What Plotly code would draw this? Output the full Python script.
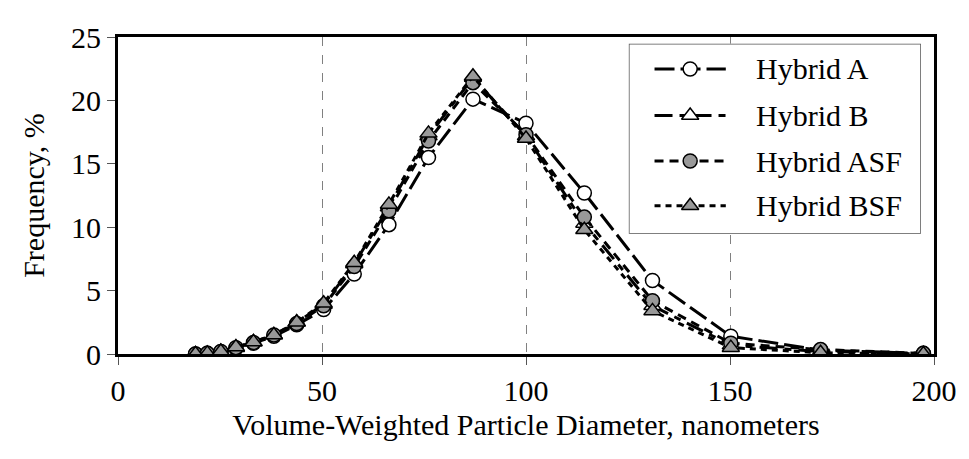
import plotly.graph_objects as go

# ---- data ----
diameter_nm = [19.0, 21.9, 25.2, 28.9, 33.2, 38.2, 43.8, 50.4, 57.9, 66.4,
               76.1, 87.0, 100.0, 114.3, 131.0, 150.2, 172.2, 197.4]
hybrid_a = [0.0, 0.05, 0.15, 0.45, 0.85, 1.4, 2.3, 3.5, 6.3, 10.2,
            15.5, 20.1, 18.2, 12.7, 5.8, 1.4, 0.3, 0.05]
hybrid_b = [0.0, 0.05, 0.2, 0.5, 0.95, 1.5, 2.5, 3.9, 7.1, 11.6,
            17.2, 21.8, 17.2, 10.3, 3.8, 0.7, 0.2, 0.0]
hybrid_asf = [0.0, 0.05, 0.2, 0.5, 0.9, 1.5, 2.4, 3.8, 6.9, 11.3,
              16.8, 21.4, 17.3, 10.8, 4.2, 0.85, 0.35, 0.05]
hybrid_bsf = [0.0, 0.05, 0.2, 0.55, 0.95, 1.5, 2.5, 4.0, 7.2, 11.8,
              17.4, 21.9, 17.0, 9.8, 3.4, 0.5, 0.1, 0.0]
series_names = ["Hybrid A", "Hybrid B", "Hybrid ASF", "Hybrid BSF"]
series_values = [hybrid_a, hybrid_b, hybrid_asf, hybrid_bsf]
x_ticks = [0, 50, 100, 150, 200]
y_ticks = [0, 5, 10, 15, 20, 25]

FONT = "Liberation Serif, Times New Roman, serif"
FS = 30
GRAY = "#999999"
styles = [
    dict(dash="20px,6px", symbol="circle", fill="white", size=14),
    dict(dash="18px,7px,7px,7px", symbol="triangle-up", fill="white", size=15),
    dict(dash="9px,6px", symbol="circle", fill=GRAY, size=14),
    dict(dash="6px,5px", symbol="triangle-up", fill=GRAY, size=15),
]

fig = go.Figure()
for name, vals, st in zip(series_names, series_values, styles):
    fig.add_trace(go.Scatter(
        x=diameter_nm, y=vals, mode="lines+markers", name=name, showlegend=False,
        line=dict(color="black", width=3, dash=st["dash"]),
        marker=dict(symbol=st["symbol"], size=st["size"], color=st["fill"],
                    line=dict(color="black", width=1.5)),
        xaxis="x", yaxis="y"))

# ---- legend drawn in an overlay box (axes x2/y2, range 0..1) ----
rows = [0.867, 0.622, 0.383, 0.148]
for name, st, r in zip(series_names, styles, rows):
    fig.add_trace(go.Scatter(
        x=[0.088, 0.332], y=[r, r], mode="lines", showlegend=False, hoverinfo="skip",
        line=dict(color="black", width=3, dash=st["dash"]), xaxis="x2", yaxis="y2"))
    fig.add_trace(go.Scatter(
        x=[0.21], y=[r], mode="markers", showlegend=False, hoverinfo="skip",
        marker=dict(symbol=st["symbol"], size=st["size"], color=st["fill"],
                    line=dict(color="black", width=1.5)), xaxis="x2", yaxis="y2"))
    fig.add_annotation(x=0.427, y=r, xref="x2", yref="y2", text=name, showarrow=False,
                       xanchor="left", yanchor="middle",
                       font=dict(family=FONT, size=FS, color="black"))

fig.add_shape(type="rect", xref="x2", yref="y2", x0=0, x1=1, y0=0, y1=1,
              line=dict(color="#555555", width=1.5), fillcolor="white", layer="below")

fig.update_layout(
    width=961, height=451,
    margin=dict(l=110, r=27, t=19, b=105),
    paper_bgcolor="white", plot_bgcolor="white",
    font=dict(family=FONT, size=FS, color="black"),
    xaxis=dict(range=[0, 200], tickvals=x_ticks, showgrid=True, gridcolor="#808080",
               gridwidth=1, griddash="dash", zeroline=False, showline=True,
               linecolor="black", linewidth=3, mirror=True, ticks="outside",
               ticklen=8, tickcolor="#555555", tickwidth=1,
               tickfont=dict(family=FONT, size=FS),
               title=dict(text="Volume-Weighted Particle Diameter, nanometers",
                          font=dict(family=FONT, size=FS), standoff=8)),
    yaxis=dict(range=[0, 25], tickvals=y_ticks, showgrid=False, zeroline=False,
               showline=True, linecolor="black", linewidth=3, mirror=True,
               ticks="outside", ticklen=8, tickcolor="#555555", tickwidth=1,
               tickfont=dict(family=FONT, size=FS),
               title=dict(text="Frequency, %", font=dict(family=FONT, size=FS), standoff=18)),
    xaxis2=dict(domain=[0.626, 0.984], range=[0, 1], visible=False, anchor="y2", fixedrange=True),
    yaxis2=dict(domain=[0.379, 0.979], range=[0, 1], visible=False, anchor="x2", fixedrange=True),
)

fig.write_html("out.html")
